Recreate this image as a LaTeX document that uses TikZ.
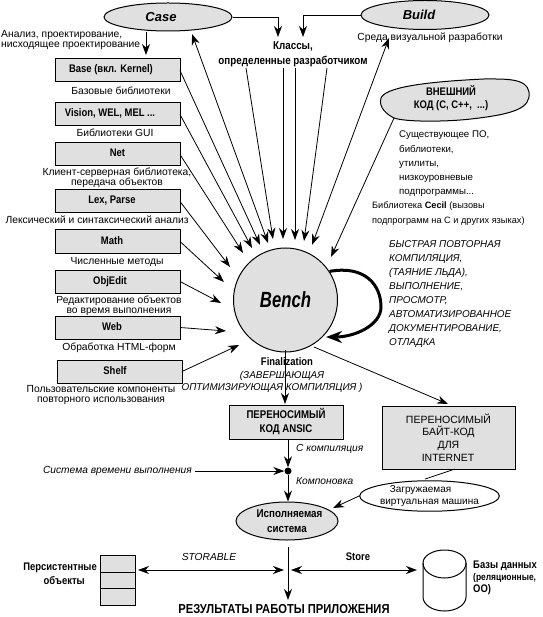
\documentclass[tikz,border=0pt]{standalone}
\usepackage{fontspec}
\setmainfont{Liberation Sans}
\newfontfamily\narrowfont[FakeStretch=0.86]{Liberation Sans}
\newfontfamily\condfont[FakeStretch=0.76]{Liberation Sans}
\usetikzlibrary{positioning,arrows.meta,shapes.geometric}

\begin{document}
\begin{tikzpicture}[x=1pt,y=-1pt,>={Stealth[length=11pt,width=8pt]},node distance=17pt,
  libbox/.style={rectangle,draw,line width=1pt,fill=black!12,minimum width=125pt,minimum height=23pt,outer sep=0pt,
    inner sep=0pt,text height=7pt,text depth=2pt,font=\narrowfont\bfseries\fontsize{11}{12}\selectfont},
  oval/.style={ellipse,draw,line width=1pt,fill=black!12,inner sep=0pt,align=center},
  cellbox/.style={rectangle,draw,line width=1pt,fill=black!12,minimum width=35pt,minimum height=16.4pt,inner sep=0pt,outer sep=0pt},
  capt/.style={inner sep=0pt,align=center,font=\fontsize{10.3}{10}\selectfont},
  bcapt/.style={inner sep=0pt,align=center,font=\narrowfont\bfseries\fontsize{11}{14}\selectfont},
  icapt/.style={inner sep=0pt,font=\itshape\fontsize{10.2}{14}\selectfont},
  arc/.style={->,line width=0.8pt}]
  \useasboundingbox (0,0) rectangle (542,617);

  \node[oval,minimum width=128pt,minimum height=28pt,font=\bfseries\itshape\fontsize{13}{14}\selectfont] (case) at (168,17) {Case\hspace*{14pt}};
  \node[oval,minimum width=128pt,minimum height=29pt,font=\bfseries\itshape\fontsize{13}{14}\selectfont] (build) at (425,15) {Build\hspace*{12pt}};
  \node[circle,draw,line width=1pt,fill=black!12,minimum size=104pt,inner sep=0pt,font=\condfont\bfseries\itshape\fontsize{22}{24}\selectfont] (bench) at (285.5,300) {Bench};

  \node[libbox] (base) at (117.5,70.5) {Base (вкл. Kernel)\hspace*{13pt}};
  \node[libbox,below=21pt of base] (vision) {Vision, WEL, MEL ...\hspace*{15pt}};
  \node[libbox,below=of vision] (net) {Net};
  \node[libbox,below=24pt of net] (lex) {Lex, Parse\hspace*{11pt}};
  \node[libbox,below=of lex] (math) {Math\hspace*{11pt}};
  \node[libbox,below=of math] (objedit) {ObjEdit\hspace*{15pt}};
  \node[libbox,below=23pt of objedit] (web) {Web\hspace*{11pt}};
  \node[libbox,below=21pt of web,xshift=2pt] (shelf) {Shelf\hspace*{9pt}};

  \node[capt] at (121,91) (basecap) {Базовые библиотеки};
  \node[capt] at (115,133) (viscap) {Библиотеки GUI};
  \node[capt] at (117,178) (netcap) {Клиент-серверная библиотека,\\передача объектов};
  \node[capt] at (97,220) (lexcap) {Лексический и синтаксический анализ};
  \node[capt] at (117,262) (mathcap) {Численные методы};
  \node[capt] at (119,306) (objcap) {Редактирование объектов\\во время выполнения};
  \node[capt] at (119,348) (webcap) {Обработка HTML-форм};
  \node[capt] at (101,395) (shelfcap) {Пользовательские компоненты\\повторного использования};
  \node[capt,align=left,anchor=west] at (1,40) (anal) {Анализ, проектирование,\\нисходящее проектирование};
  \node[capt] at (430,38) (envcap) {Среда визуальной разработки};

  \node[bcapt,font=\narrowfont\bfseries\fontsize{11.4}{15}\selectfont] at (293,54) (classes) {Классы,\\определенные разработчиком};

  % outline of the blob drawn by hand, the text sits on top of it
  \draw[line width=1pt,fill=black!12] (381,98) .. controls (385,88) and (420,82) .. (484,79) .. controls (505,79) and (527,78) .. (529,92) .. controls (531,108) and (515,114) .. (471,119) .. controls (445,122) and (405,122) .. (394,118) .. controls (388,115) and (378,108) .. (381,98) -- cycle;
  \node[bcapt,font=\narrowfont\bfseries\fontsize{11}{13}\selectfont] at (451,98) (extern) {ВНЕШНИЙ\\КОД (C, C++,~~...)};
  \coordinate (externout) at (394,118);
  \node[capt,align=left,anchor=north west,font=\fontsize{9.7}{14.2}\selectfont] at (399,131) (existing) {Существующее ПО,\\библиотеки,\\утилиты,\\низкоуровневые\\подпрограммы...};
  \node[capt,align=left,anchor=north west,font=\fontsize{9.2}{15}\selectfont] at (372,202) (cecil) {Библиотека \textbf{Cecil} (вызовы\\подпрограмм на С и других языках)};
  \node[icapt,align=left,anchor=north west,font=\itshape\fontsize{9.9}{14.1}\selectfont] at (389,240) (tools) {БЫСТРАЯ ПОВТОРНАЯ\\КОМПИЛЯЦИЯ,\\(ТАЯНИЕ ЛЬДА),\\ВЫПОЛНЕНИЕ,\\ПРОСМОТР,\\АВТОМАТИЗИРОВАННОЕ\\ДОКУМЕНТИРОВАНИЕ,\\ОТЛАДКА};

  \node[bcapt] at (287,362) (final) {Finalization};
  \node[icapt,align=center,font=\itshape\fontsize{9.9}{12}\selectfont] at (272,382) (finaltxt) {\hspace*{20pt}(ЗАВЕРШАЮЩАЯ\\ОПТИМИЗИРУЮЩАЯ КОМПИЛЯЦИЯ )};

  \node[rectangle,draw,line width=1pt,fill=black!12,minimum width=114pt,minimum height=34pt,inner sep=0pt,outer sep=0pt,align=center,font=\narrowfont\bfseries\fontsize{11.2}{14}\selectfont] (ansic) at (286,422) {ПЕРЕНОСИМЫЙ\\КОД ANSIC};
  \node[rectangle,draw,line width=1pt,fill=black!12,minimum width=133pt,minimum height=63pt,inner sep=0pt,outer sep=0pt,align=center,font=\fontsize{10.5}{12.6}\selectfont] (bytecode) at (448.5,437.5) {ПЕРЕНОСИМЫЙ\\БАЙТ-КОД\\ДЛЯ\\INTERNET\hspace*{1pt}};
  \node[circle,fill=black,inner sep=0pt,minimum size=7pt] (dot) at (288,471) {};
  \node[oval,minimum width=102pt,minimum height=38pt,font=\narrowfont\bfseries\fontsize{11.4}{14.5}\selectfont] (exec) at (287,521) {\hspace*{5pt}Исполняемая\\система};
  \node[ellipse,draw,line width=1pt,fill=white,minimum width=117pt,minimum height=30pt,inner sep=0pt,align=center,font=\fontsize{10}{12.5}\selectfont] (vm) at (429.5,496) {Загружаемая\hspace*{18pt}\\виртуальная машина};

  \node[icapt,anchor=east] at (192,471) (runtime) {Система времени выполнения};
  \node[icapt,anchor=west] at (296,449) (ccomp) {С компиляция};
  \node[icapt,anchor=west] at (296,481) (linking) {Компоновка};
  \node[icapt] at (209,557) (storable) {STORABLE};
  \node[bcapt] at (358,557) (storetxt) {Store};

  \node[cellbox] (obja) at (117.5,564) {};
  \node[cellbox,below=0pt of obja] (objb) {};
  \node[cellbox,below=0pt of objb] (objc) {};
  \node[bcapt,align=right,anchor=east] at (97,574) (persist) {Персистентные\\объекты\hspace*{12pt}};
  \node[minimum width=43pt,minimum height=61pt,inner sep=0pt] (dbase) at (444.5,580.5) {};
  \draw[line width=1pt,fill=white] (423,563) -- (423,597) arc[start angle=180,end angle=360,x radius=21.5pt,y radius=14pt] -- (466,563) arc[start angle=0,end angle=180,x radius=21.5pt,y radius=13pt];
  \draw[line width=1pt] (423,563) arc[start angle=180,end angle=360,x radius=21.5pt,y radius=15pt];
  \node[bcapt,align=left,anchor=west,font=\narrowfont\bfseries\fontsize{11}{12}\selectfont] at (473,578) (dbtxt) {Базы данных\\{\fontsize{9.8}{12}\selectfont(реляционные,}\\ОО)};
  \node[font=\narrowfont\bfseries\fontsize{13}{14}\selectfont,inner sep=0pt] at (284,609) (result) {РЕЗУЛЬТАТЫ РАБОТЫ ПРИЛОЖЕНИЯ};

  % free ends of the connectors around the circle
  \coordinate (inlex) at (230,267);
  \coordinate (innet) at (243,253);
  \coordinate (invis) at (252,248);
  \coordinate (inbase) at (260,245);
  \coordinate (incase) at (268,243);
  \coordinate (cla) at (246,68);
  \coordinate (clb) at (283,68);
  \coordinate (clc) at (295,68);
  \coordinate (cld) at (327,68);
  \coordinate (ina) at (273,239);
  \coordinate (inb) at (283,239);
  \coordinate (inc) at (295,240);
  \coordinate (ind) at (304,241);
  \coordinate (inbuild) at (312,245);
  \coordinate (inext) at (331,257);
  \coordinate (casetip) at (192,34);
  \coordinate (buildtip) at (389,38);
  \coordinate (objin) at (138,570);
  \coordinate (dbin) at (417,570);

  \draw[arc] (base.east) -- (inbase);
  \draw[arc] (vision.east) -- (invis);
  \draw[arc] (net.east) -- (innet);
  \draw[arc] (lex.east) -- (inlex);
  \draw[arc] (math.east) -- (224,282);
  \draw[arc] (objedit.east) -- (221,303);
  \draw[arc] (web.east) -- (226,331);
  \draw[arc] (shelf.east) -- (239,345);
  \draw[arc,<->] (casetip) -- (incase);
  \draw[arc,<->] (buildtip) -- (inbuild);
  \draw[arc] (cla) -- (ina);
  \draw[arc] (clb) -- (inb);
  \draw[arc] (clc) -- (inc);
  \draw[arc] (cld) -- (ind);
  \draw[arc] (externout) -- (inext);
  \draw[arc] (case.east) -| (278,37);
  \draw[arc] (build.west) -| (303,37);
  \draw[arc] (146,32) -- (146,55);
  \draw[line width=3pt,-{Stealth[length=16pt,width=12pt]}] (bench.33) .. controls (365,265) and (381,285) .. (381,307) .. controls (381,325) and (355,337) .. (326,337);

  \draw[arc] (285,350) -- (285,404);
  \draw[arc] (314,347) -- (448,404);
  \draw[arc] (ansic.south -| dot) -- (dot);
  \draw[arc] (dot) -- (exec.north -| dot);
  \draw[arc,shorten <=3pt] (runtime.east) -- (dot);
  \draw[line width=0.8pt] (455,469) -- (425,479);
  \draw[arc] (vm.west) -- (333,508);
  \draw[arc] (288,547) -- (288,600);
  \draw[arc,<->] (objin) -- (284,570);
  \draw[arc,<->] (291,570) -- (dbin);
\end{tikzpicture}
\end{document}
